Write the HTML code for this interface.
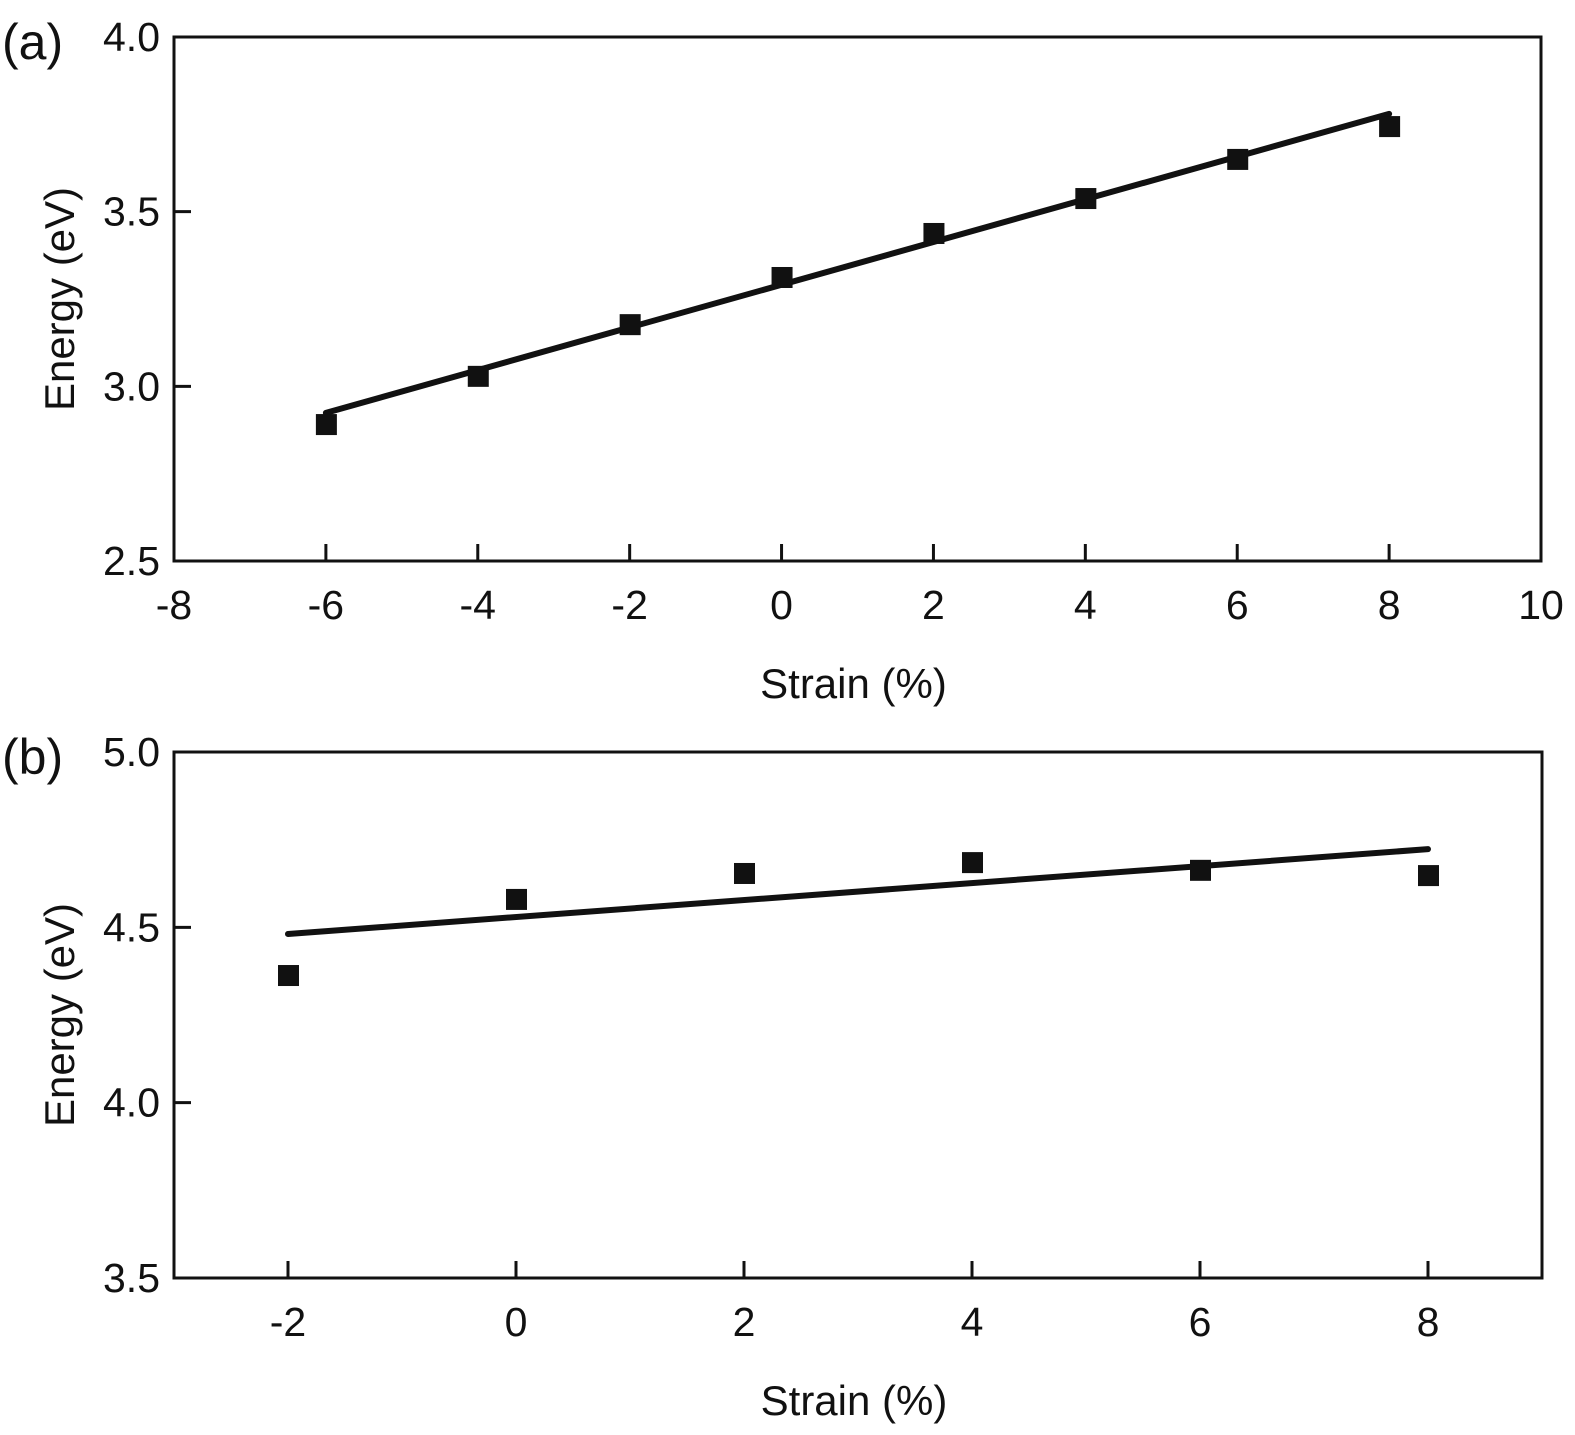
<!DOCTYPE html>
<html><head><meta charset="utf-8"><style>
html,body{margin:0;padding:0;background:#fff;}
svg{display:block;font-family:"Liberation Sans",Arial,sans-serif;}
</style></head><body>
<svg id="fig" width="1575" height="1435" viewBox="0 0 1575 1435" xmlns="http://www.w3.org/2000/svg"></svg>
<script>
// Panel (a) data
const aStrain = [-6, -4, -2, 0, 2, 4, 6, 8];
const aEnergy = [2.892, 3.030, 3.178, 3.313, 3.439, 3.539, 3.651, 3.745];
const aFitX = [-6, 8];
const aFitY = [2.924, 3.780];
const aXTicks = [-8, -6, -4, -2, 0, 2, 4, 6, 8, 10];
const aYTicks = [2.5, 3.0, 3.5, 4.0];
// Panel (b) data
const bStrain = [-2, 0, 2, 4, 6, 8];
const bEnergy = [4.364, 4.581, 4.655, 4.686, 4.664, 4.649];
const bFitX = [-2, 8];
const bFitY = [4.481, 4.723];
const bXTicks = [-2, 0, 2, 4, 6, 8];
const bYTicks = [3.5, 4.0, 4.5, 5.0];

const NS = "http://www.w3.org/2000/svg";
const svg = document.getElementById('fig');
function mk(tag, attrs, parent, text){
  const e = document.createElementNS(NS, tag);
  for (const k in attrs) e.setAttribute(k, attrs[k]);
  if (text !== undefined) e.textContent = text;
  parent.appendChild(e);
  return e;
}
function panel(cfg){
  const g = mk('g', {}, svg);
  
  
  const sx = v => cfg.L + (v - cfg.x0) / (cfg.x1 - cfg.x0) * (cfg.R - cfg.L);
  const sy = v => cfg.B - (v - cfg.y0) / (cfg.y1 - cfg.y0) * (cfg.B - cfg.T);
  const frame = mk('rect', {x:cfg.L, y:cfg.T, width:cfg.R-cfg.L, height:cfg.B-cfg.T, fill:'none', stroke:'#111', 'stroke-width':3}, g);
  
  
  cfg.xt.forEach(v => {
    const x = sx(v);
    const t = mk('line', {x1:x, x2:x, y1:cfg.B, y2:cfg.B-17, stroke:'#111', 'stroke-width':3}, g);
    
    
    const l = mk('text', {x:x, y:cfg.B+58, 'font-size':41, 'text-anchor':'middle', fill:'#111'}, g, String(v));
    
    
  });
  cfg.yt.forEach(v => {
    const y = sy(v);
    const t = mk('line', {x1:cfg.L, x2:cfg.L+17, y1:y, y2:y, stroke:'#111', 'stroke-width':3}, g);
    
    
    const l = mk('text', {x:cfg.L-14, y:y+14, 'font-size':41, 'text-anchor':'end', fill:'#111'}, g, v.toFixed(1));
    
    
  });
  const fit = mk('line', {x1:sx(cfg.fx[0]), y1:sy(cfg.fy[0]), x2:sx(cfg.fx[1]), y2:sy(cfg.fy[1]), stroke:'#111', 'stroke-width':6, 'stroke-linecap':'round'}, g);
  
  
  cfg.xs.forEach((v, i) => {
    const m = mk('rect', {x:sx(v)-10, y:sy(cfg.ys[i])-10, width:21, height:21, fill:'#111'}, g);
    
    
  });
  const xl = mk('text', {x:(cfg.L+cfg.R)/2-4, y:cfg.B+137, 'font-size':42, 'text-anchor':'middle', fill:'#111'}, g, 'Strain (%)');
  
  
  const yc = (cfg.T+cfg.B)/2;
  const yl = mk('text', {x:74, y:yc, 'font-size':42, 'text-anchor':'middle', fill:'#111', transform:'rotate(-90 74 '+yc+')'}, g, 'Energy (eV)');
  
  
  const pl = mk('text', {x:2, y:cfg.T+22, 'font-size':50, fill:'#111'}, g, cfg.label);
  
  
}
panel({name:'panel-a', label:'(a)', L:174, R:1541, T:37, B:561, x0:-8, x1:10, y0:2.5, y1:4.0,
  xt:aXTicks, yt:aYTicks, xs:aStrain, ys:aEnergy, fx:aFitX, fy:aFitY});
panel({name:'panel-b', label:'(b)', L:174, R:1542, T:752, B:1278, x0:-3, x1:9, y0:3.5, y1:5.0,
  xt:bXTicks, yt:bYTicks, xs:bStrain, ys:bEnergy, fx:bFitX, fy:bFitY});
</script>
</body></html>
